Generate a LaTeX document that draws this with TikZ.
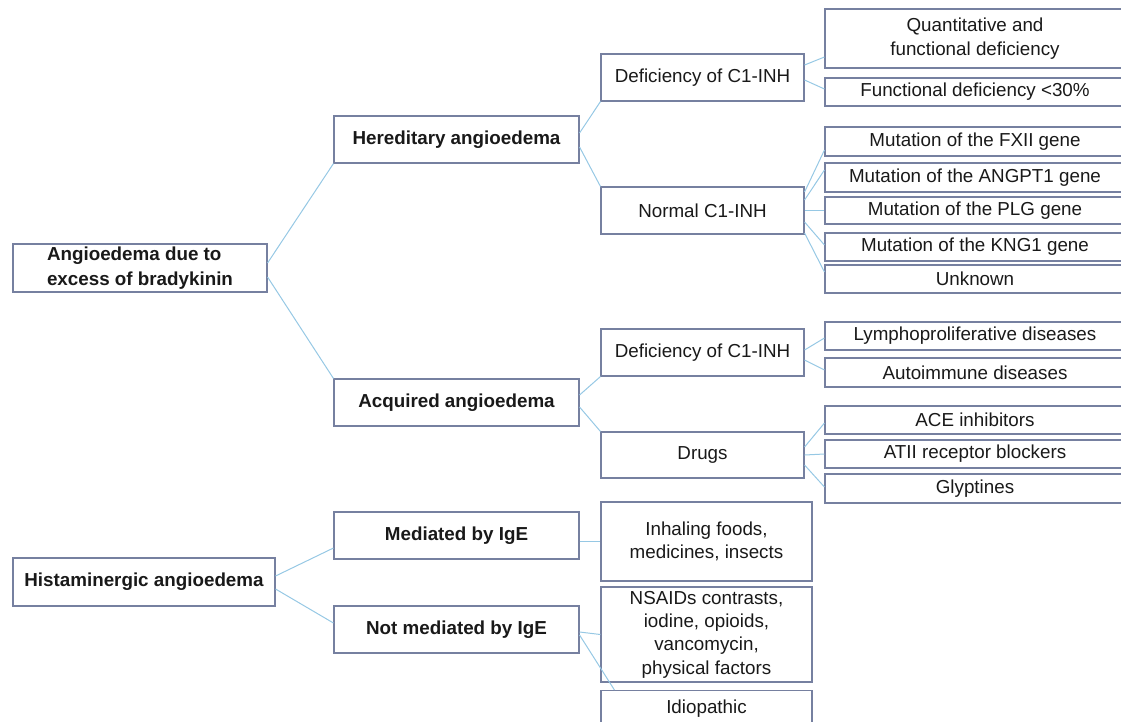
\documentclass[tikz,border=0pt]{standalone}
\usepackage{fontspec}
\setmainfont{Liberation Sans}
\usetikzlibrary{positioning}
\definecolor{colbox}{RGB}{118,128,160}
\definecolor{colline}{RGB}{150,200,228}
\definecolor{coltxt}{RGB}{25,25,25}

\begin{document}
\begin{tikzpicture}[x=1pt, y=-1pt,
    box/.style={draw=colbox, line width=1.1pt, inner sep=0pt, text=coltxt, align=center,
      font=\fontsize{18.8}{23.3}\selectfont},
    head/.style={box, font=\fontsize{18.8}{24.5}\selectfont\bfseries},
    mid/.style={head, minimum width=245pt, minimum height=47pt},
    sub/.style={box, minimum width=203pt, minimum height=47pt},
    leaf/.style={box, minimum width=300pt},
    link/.style={draw=colline, line width=1pt}]
    \useasboundingbox (0,0) rectangle (1121,721);

    % first column
    \node[head, align=left, minimum width=254pt, minimum height=48pt] (angio) at (140,268) {Angioedema due to\\excess of bradykinin};
    \node[head, minimum width=262pt, minimum height=48pt] (hist) at (144,582) {Histaminergic angioedema};

    % second column
    \node[mid] (her) at (456.5,139.5) {Hereditary angioedema};
    \node[mid] (acq) at (456.5,402.5) {Acquired angioedema};
    \node[mid] (med) at (456.5,535.5) {Mediated by IgE};
    \node[mid] (notmed) at (456.5,629.5) {Not mediated by IgE};

    % third column
    \node[sub] (hdef) at (702.5,77.5) {Deficiency of C1-INH};
    \node[sub] (hnorm) at (702.5,210.5) {Normal C1-INH};
    \node[sub] (adef) at (702.5,352.5) {Deficiency of C1-INH};
    \node[sub, minimum height=46pt] (drugs) at (702.5,455) {Drugs};
    \node[box, minimum width=211pt, minimum height=79pt] (inh) at (706.5,541.5) {Inhaling foods,\\medicines, insects};
    \node[box, minimum width=211pt, minimum height=95pt] (nsaid) at (706.5,634.5) {NSAIDs contrasts,\\iodine, opioids,\\vancomycin,\\physical factors};
    \node[box, minimum width=211pt, anchor=north, text height=23pt, text depth=37pt] (idio) at (706.5,690) {Idiopathic};

    % fourth column
    \node[leaf, minimum height=59pt] (quant) at (975,38.5) {Quantitative and\\functional deficiency};
    \node[leaf, minimum height=28pt] (func) at (975,92) {Functional deficiency \textless30\%};
    \node[leaf, minimum height=29pt] (fxii) at (975,141.5) {Mutation of the FXII gene};
    \node[leaf, minimum height=29pt] (angpt) at (975,177.5) {Mutation of the ANGPT1 gene};
    \node[leaf, minimum height=27pt] (plg) at (975,210.5) {Mutation of the PLG gene};
    \node[leaf, minimum height=28pt] (kng) at (975,247) {Mutation of the KNG1 gene};
    \node[leaf, minimum height=28pt] (unk) at (975,279) {Unknown};
    \node[leaf, minimum height=28pt] (lym) at (975,336) {Lymphoproliferative diseases};
    \node[leaf, minimum height=29pt] (auto) at (975,372.5) {Autoimmune diseases};
    \node[leaf, minimum height=28pt] (ace) at (975,420) {ACE inhibitors};
    \node[leaf, minimum height=28pt] (atii) at (975,454) {ATII receptor blockers};
    \node[leaf, minimum height=29pt] (glyp) at (975,488.5) {Glyptines};

    % connectors
    \draw[link] ([yshift=5pt]angio.east) -- (her.south west);
    \draw[link] ([yshift=-9pt]angio.east) -- (acq.north west);
    \draw[link] ([yshift=6.5pt]her.east) -- (hdef.south west);
    \draw[link] ([yshift=-7.5pt]her.east) -- (hnorm.north west);
    \draw[link] ([yshift=7.5pt]acq.east) -- (adef.south west);
    \draw[link] ([yshift=-4.5pt]acq.east) -- (drugs.north west);
    \draw[link] ([yshift=12.5pt]hdef.east) -- ([yshift=-18.5pt]quant.west);
    \draw[link] ([yshift=-2.5pt]hdef.east) -- ([yshift=3pt]func.west);
    \draw[link] ([yshift=18.5pt]hnorm.east) -- ([yshift=-8.5pt]fxii.west);
    \draw[link] ([yshift=10.5pt]hnorm.east) -- ([yshift=7.5pt]angpt.west);
    \draw[link] (hnorm.east) -- (plg.west);
    \draw[link] ([yshift=-11.5pt]hnorm.east) -- ([yshift=2pt]kng.west);
    \draw[link] ([yshift=-22.5pt]hnorm.east) -- ([yshift=7pt]unk.west);
    \draw[link] ([yshift=2.5pt]adef.east) -- ([yshift=-2pt]lym.west);
    \draw[link] ([yshift=-7.5pt]adef.east) -- ([yshift=2.5pt]auto.west);
    \draw[link] ([yshift=8pt]drugs.east) -- ([yshift=-3pt]ace.west);
    \draw[link] (drugs.east) -- (atii.west);
    \draw[link] ([yshift=-10pt]drugs.east) -- ([yshift=1.5pt]glyp.west);
    \draw[link] ([yshift=6pt]hist.east) -- ([yshift=-12.5pt]med.west);
    \draw[link] ([yshift=-7pt]hist.east) -- ([yshift=6.5pt]notmed.west);
    \draw[link] (med.east |- inh.west) -- (inh.west);
    \draw[link] ([yshift=-2.5pt]notmed.east) -- (nsaid.west);
    \draw[link] ([yshift=-5.5pt]notmed.east) -- ([xshift=14pt]idio.north west);
\end{tikzpicture}
\end{document}
